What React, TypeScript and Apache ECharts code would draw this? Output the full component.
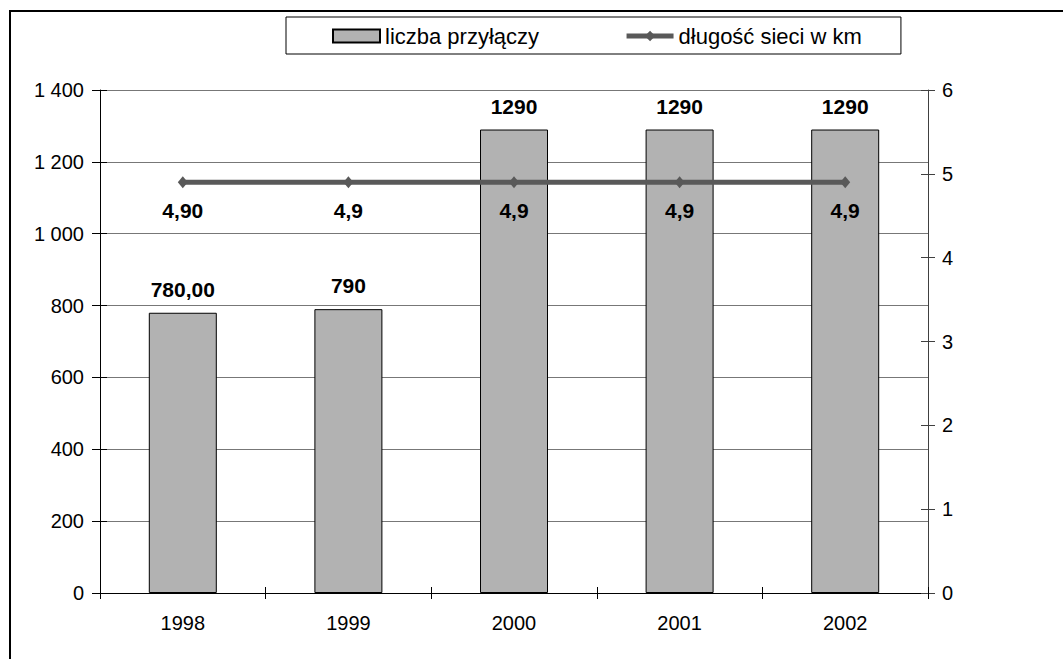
import React, { useEffect, useRef } from "react";
import * as echarts from "echarts";

const years = ["1998", "1999", "2000", "2001", "2002"];
const connections = [780, 790, 1290, 1290, 1290];
const connectionDecimals = [2, 0, 0, 0, 0];
const networkKm = [4.9, 4.9, 4.9, 4.9, 4.9];
const networkDecimals = [2, 1, 1, 1, 1];
const seriesNames = ["liczba przyłączy", "długość sieci w km"];

const FONT = "'Liberation Sans', Arial, sans-serif";

function fmtComma(v: number, d: number) {
  return v.toFixed(d).replace(".", ",");
}
function fmtThousands(v: number) {
  return String(v).replace(/\B(?=(\d{3})+(?!\d))/g, " ");
}

export default function App() {
  const ref = useRef<HTMLDivElement>(null);
  useEffect(() => {
    if (!ref.current) return;
    const chart = echarts.init(ref.current, undefined, { renderer: "svg" });
    chart.setOption({
      animation: false,
      backgroundColor: "#ffffff",
      textStyle: { fontFamily: FONT },
      grid: { left: 100, right: 135, top: 90, bottom: 66, containLabel: false },
      graphic: [
        {
          type: "rect",
          shape: { x: 10, y: 11, width: 1100, height: 700 },
          style: { fill: "none", stroke: "#000", lineWidth: 2 },
          silent: true,
        },
      ],
      legend: {
        left: 286,
        top: 17,
        padding: [8, 39, 7, 46],
        borderColor: "#000",
        borderWidth: 1,
        itemGap: 85,
        itemWidth: 47,
        itemHeight: 13,
        textStyle: { fontFamily: FONT, fontSize: 22, color: "#000" },
        data: [
          { name: seriesNames[0], icon: "rect" },
          {
            name: seriesNames[1],
            lineStyle: { width: 5, color: "#595959" },
            itemStyle: { color: "#595959" },
          },
        ],
      },
      xAxis: [
        {
          type: "category",
          data: years,
          position: "bottom",
          axisLine: { lineStyle: { color: "#000", width: 1 } },
          axisTick: { show: true, length: 6, lineStyle: { color: "#000" } },
          axisLabel: { fontSize: 20, color: "#000", fontFamily: FONT, margin: 20 },
          splitLine: { show: false },
        },
        {
          type: "category",
          data: years,
          position: "bottom",
          axisLine: { show: false },
          axisTick: { show: true, inside: true, length: 6, lineStyle: { color: "#000" } },
          axisLabel: { show: false },
          splitLine: { show: false },
        },
      ],
      yAxis: [
        {
          type: "value",
          min: 0,
          max: 1400,
          interval: 200,
          position: "left",
          axisLine: { show: true, lineStyle: { color: "#000" } },
          axisTick: { show: true, length: 8, lineStyle: { color: "#000" } },
          axisLabel: {
            fontSize: 20,
            color: "#000",
            fontFamily: FONT,
            margin: 16,
            formatter: (v: number) => fmtThousands(v),
          },
          splitLine: { show: true, lineStyle: { color: "#777", width: 1 } },
        },
        {
          type: "value",
          min: 0,
          max: 6,
          interval: 1,
          position: "right",
          axisLine: { show: true, lineStyle: { color: "#404040" } },
          axisTick: { show: true, length: 7, lineStyle: { color: "#404040" } },
          axisLabel: { fontSize: 20, color: "#000", fontFamily: FONT, margin: 14 },
          splitLine: { show: false },
        },
        {
          type: "value",
          min: 0,
          max: 1400,
          interval: 200,
          position: "left",
          axisLine: { show: false },
          axisTick: { show: true, inside: true, length: 7, lineStyle: { color: "#000" } },
          axisLabel: { show: false },
          splitLine: { show: false },
        },
        {
          type: "value",
          min: 0,
          max: 6,
          interval: 1,
          position: "right",
          axisLine: { show: false },
          axisTick: { show: true, inside: true, length: 7, lineStyle: { color: "#404040" } },
          axisLabel: { show: false },
          splitLine: { show: false },
        },
      ],
      series: [
        {
          name: seriesNames[0],
          type: "bar",
          xAxisIndex: 0,
          yAxisIndex: 0,
          data: connections,
          barWidth: 68,
          itemStyle: { color: "#b2b2b2", borderColor: "#000", borderWidth: 1 },
          label: {
            show: true,
            position: "top",
            distance: 13,
            fontSize: 21,
            fontWeight: "bold",
            color: "#000",
            fontFamily: FONT,
            formatter: (p: any) => fmtComma(p.value, connectionDecimals[p.dataIndex]),
          },
          z: 2,
        },
        {
          name: seriesNames[1],
          type: "line",
          xAxisIndex: 0,
          yAxisIndex: 1,
          data: networkKm,
          symbol: "diamond",
          symbolSize: [10, 12],
          lineStyle: { color: "#595959", width: 5 },
          itemStyle: { color: "#595959" },
          label: {
            show: true,
            position: "bottom",
            distance: 12,
            fontSize: 21,
            fontWeight: "bold",
            color: "#000",
            fontFamily: FONT,
            formatter: (p: any) => fmtComma(p.value, networkDecimals[p.dataIndex]),
          },
          z: 3,
        },
      ],
    });
    return () => chart.dispose();
  }, []);
  return (
    <div
      ref={ref}
      style={{ position: "absolute", left: 0, top: 0, width: 1063, height: 659 }}
    />
  );
}
